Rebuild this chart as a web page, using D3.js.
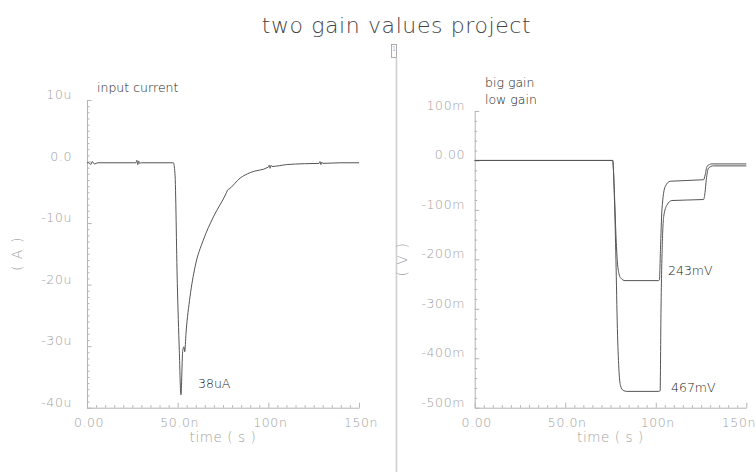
<!DOCTYPE html>
<html><head><meta charset="utf-8">
<script src="https://cdn.jsdelivr.net/npm/d3@7"></script>
<style>
html,body{margin:0;padding:0;background:#fff;}
svg{display:block;font-family:"DejaVu Sans","Liberation Sans",Arial,sans-serif;font-weight:200;}
</style></head>
<body>
<svg id="chart" width="756" height="472"></svg>
<script>
// ---- data ----
const title = "two gain values project";
const leftTimeTicks = [0, 50, 100, 150];
const leftTimeLabels = ["0.00", "50.0n", "100n", "150n"];
const leftYTicks = [10, 0, -10, -20, -30, -40];
const leftYLabels = ["10u", "0.0", "-10u", "-20u", "-30u", "-40u"];
const rightYTicks = [100, 0, -100, -200, -300, -400, -500];
const rightYLabels = ["100m", "0.00", "-100m", "-200m", "-300m", "-400m", "-500m"];

// input current (uA) vs time (ns)
const leftTime =    [0, 1, 2, 3, 4, 6, 26, 27, 27.5, 28, 28.5, 29, 30, 47.6, 48.5, 49.8, 50.9, 51.8, 52.8, 53.5, 53.9, 54.6, 56.8, 59.6, 64.1, 69.7, 77, 77.6, 78.2, 84.4, 90, 100, 100.5, 101, 101.5, 102, 110, 120, 128, 128.5, 129, 129.5, 130, 140, 150];
const leftCurrent = [-0.2, -0.2, -0.5, 0.0, -0.4, -0.2, -0.2, -0.2, 0.2, -0.5, 0.1, -0.3, -0.2, -0.2, -1.9, -19.8, -30.7, -37.9, -30.7, -30.1, -30.9, -27.9, -22.0, -17.1, -12.8, -9.0, -5.0, -4.6, -4.5, -2.7, -1.8, -0.9, -0.6, -1.1, -0.6, -0.8, -0.5, -0.35, -0.3, 0.0, -0.5, -0.1, -0.3, -0.2, -0.2];

// big gain output (mV)
const bigTime = [0, 76.2, 77.2, 78.0, 78.8, 79.6, 80.5, 82, 84, 101.6, 102.4, 102.9, 103.6, 104.4, 106.2, 108.9, 126.4, 127.2, 127.9, 129.2, 131.9, 150];
const bigGain = [0, 0, -80, -200, -340, -420, -455, -465, -467, -467, -466, -300, -170, -113, -90, -81, -79, -65, -39, -15, -11, -11];
// low gain output (mV)
const lowTime = [0, 76.2, 77.2, 78.0, 78.8, 79.6, 80.7, 83, 101.4, 102.0, 102.6, 103.4, 105.2, 108, 126.4, 127.3, 128.3, 131, 150];
const lowGain = [0, 0, -70, -150, -205, -228, -238, -243, -243, -242, -180, -100, -53, -42, -39, -29, -12, -7, -7];

// ---- drawing ----
const svg = d3.select("#chart");
const axisCol = "#b4b4b4", labCol = "#a0a0a0", curveCol = "#555", textCol = "#222";

svg.append("text").attr("x", 396.5).attr("y", 33).attr("text-anchor", "middle")
  .attr("font-size", 22).attr("letter-spacing", 0.6).attr("fill", "#444").text(title);

// separator + marker
svg.append("line").attr("x1", 396.5).attr("x2", 396.5).attr("y1", 58).attr("y2", 472)
  .attr("stroke", "#cfcfcf").attr("stroke-width", 1.6);
svg.append("rect").attr("x", 391.5).attr("y", 44.5).attr("width", 5).attr("height", 13)
  .attr("fill", "none").attr("stroke", "#999").attr("stroke-width", 0.8);
svg.append("text").attr("x", 394).attr("y", 51).attr("text-anchor", "middle")
  .attr("font-size", 7).attr("fill", "#777").text("1");

function panel(cfg) {
  const g = svg.append("g");
  const x = d3.scaleLinear().domain([0, 150]).range([cfg.x0, cfg.x1]);
  const y = d3.scaleLinear().domain(cfg.ydom).range([cfg.y1, cfg.y0]);
  // x axis (ticks inward)
  const xa = d3.axisTop(x).tickValues(d3.range(0, 151, 5)).tickSizeOuter(0)
    .tickSize(0).tickFormat("");
  const gx = g.append("g").attr("transform", `translate(0,${cfg.y1})`).call(xa);
  gx.select(".domain").attr("stroke", axisCol);
  gx.selectAll(".tick line").attr("stroke", axisCol)
    .attr("y2", d => (d % 50 === 0 ? -5 : -2.5));
  g.selectAll(".xl").data(cfg.xTicks).join("text")
    .attr("x", (d, i) => (cfg.lastEnd && i === cfg.xTicks.length - 1) ? 756 : x(d) + 2)
    .attr("y", cfg.y1 + 19)
    .attr("text-anchor", (d, i) => (cfg.lastEnd && i === cfg.xTicks.length - 1) ? "end" : "middle")
    .attr("font-size", 12.5).attr("fill", labCol).attr("letter-spacing", 0.6)
    .text((d, i) => cfg.xLabels[i]);
  g.append("text").attr("x", (cfg.x0 + cfg.x1) / 2).attr("y", cfg.y1 + 34)
    .attr("text-anchor", "middle").attr("font-size", 13.5).attr("fill", labCol)
    .attr("letter-spacing", 0.6).text("time ( s )");
  // y axis
  const ya = d3.axisRight(y).tickValues(d3.range(cfg.ydom[0], cfg.ydom[1] + 1e-9, cfg.minor))
    .tickSize(0).tickSizeOuter(0).tickFormat("");
  const gy = g.append("g").attr("transform", `translate(${cfg.x0},0)`).call(ya);
  gy.select(".domain").attr("stroke", axisCol);
  gy.selectAll(".tick line").attr("stroke", axisCol)
    .attr("x2", d => (Math.abs(d % cfg.major) < 1e-6 ? 4.5 : 2.5));
  g.selectAll(".yl").data(cfg.yTicks).join("text")
    .attr("x", cfg.labX).attr("y", d => y(d) - 1).attr("text-anchor", "end")
    .attr("font-size", 12.5).attr("fill", labCol).attr("letter-spacing", 0.6)
    .text((d, i) => cfg.yLabels[i]);
  g.append("text").attr("transform", `translate(${cfg.unitX},${(cfg.y0 + cfg.y1) / 2}) rotate(-90)`)
    .attr("text-anchor", "middle").attr("dominant-baseline", "middle")
    .attr("font-size", 14).attr("fill", labCol).attr("letter-spacing", 1).text(cfg.unit);
  const line = d3.line().x(d => x(d[0])).y(d => y(d[1])).curve(d3.curveMonotoneX);
  cfg.series.forEach(s => {
    g.append("path").datum(d3.zip(s.t, s.v)).attr("d", line)
      .attr("fill", "none").attr("stroke", curveCol).attr("stroke-width", 1);
  });
  return { x, y, g };
}

const L = panel({
  x0: 87, x1: 359, y0: 100, y1: 407.7, ydom: [-40, 10], minor: 1, major: 10,
  xTicks: leftTimeTicks, xLabels: leftTimeLabels, yTicks: leftYTicks, yLabels: leftYLabels,
  labX: 72, unitX: 18, unit: "( A )",
  series: [{ t: leftTime, v: leftCurrent }]
});
const R = panel({
  x0: 474.7, x1: 746.3, y0: 111, y1: 407.7, ydom: [-500, 100], minor: 20, major: 100,
  xTicks: leftTimeTicks, xLabels: leftTimeLabels, yTicks: rightYTicks, yLabels: rightYLabels,
  labX: 465, unitX: 403, unit: "( V )", lastEnd: true,
  series: [{ t: bigTime, v: bigGain }, { t: lowTime, v: lowGain }]
});

// annotations
const ann = (x, y, t) => svg.append("text").attr("x", x).attr("y", y)
  .attr("font-size", 12.5).attr("fill", textCol).text(t);
ann(97, 92, "input current");
ann(198, 388, "38uA");
ann(485, 87, "big gain");
ann(485, 104, "low gain");
ann(668, 275, "243mV");
ann(671, 392, "467mV");
</script>
</body></html>
